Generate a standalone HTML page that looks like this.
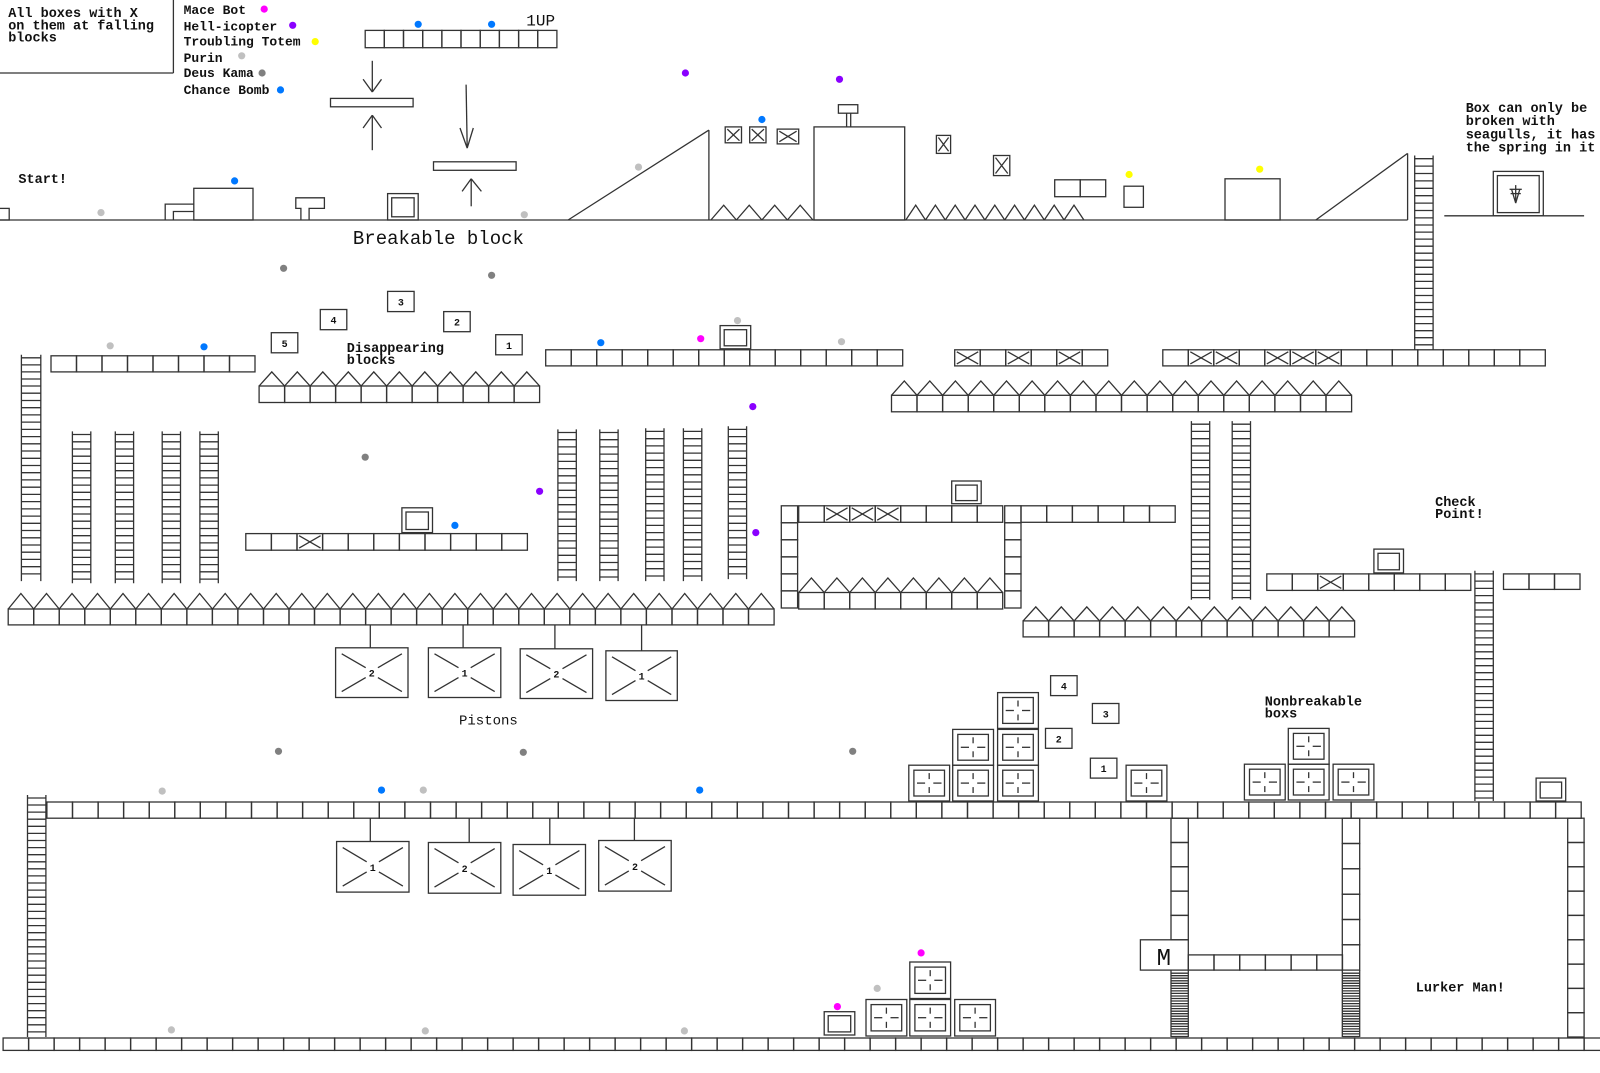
<!DOCTYPE html>
<html><head><meta charset="utf-8"><style>
html,body{margin:0;padding:0;background:#fff;width:1600px;height:1073px;overflow:hidden}
svg{display:block}
text{font-family:"Liberation Mono",monospace;fill:#111}
</style></head><body>
<svg id="s" width="1600" height="1073" viewBox="0 0 1600 1073" xmlns="http://www.w3.org/2000/svg" fill="none" stroke="#333" stroke-width="1.3">
<g id="g"></g>
</svg>
<script>
var P=[[0,0],[72,73],[211,220],[376,386],[592,609],[786,802],[1019,1038],[1073,1080]];
function fy(y){for(var i=1;i<P.length;i++){if(y<=P[i][0]||i==P.length-1){var a=P[i-1],b=P[i];return +(a[1]+(y-a[0])*(b[1]-a[1])/(b[0]-a[0])).toFixed(1);}}}
function fx(x){return +(x*1.02).toFixed(1);}
var g=document.getElementById('g'),o='';
function L(x1,y1,x2,y2){o+='<line x1="'+fx(x1)+'" y1="'+fy(y1)+'" x2="'+fx(x2)+'" y2="'+fy(y2)+'"/>';}
function PL(pts){o+='<polyline points="'+pts.map(function(p){return fx(p[0])+','+fy(p[1]);}).join(' ')+'"/>';}
function R(x,y,w,h){var X1=fx(x),Y1=fy(y);o+='<rect x="'+X1+'" y="'+Y1+'" width="'+(fx(x+w)-X1).toFixed(1)+'" height="'+(fy(y+h)-Y1).toFixed(1)+'"/>';}
function T(x,y,t,s,w,anchor,extra){o+='<text x="'+fx(x)+'" y="'+fy(y)+'" stroke="none" style="font-size:'+s+'px;font-weight:'+(w||'bold')+'" text-anchor="'+(anchor||'start')+'" '+(extra||'')+'>'+t+'</text>';}
function row(x,y,n,cw,h,xs){h=h||16;for(var i=0;i<n;i++){R(x+i*cw,y,cw,h);if(xs&&xs.indexOf(i)>=0)X(x+i*cw,y,cw,h);}}
function col(x,y,n,ch,w){for(var i=0;i<n;i++)R(x,y+i*ch,w||17,ch);}
function X(x,y,w,h){L(x+2,y+2,x+w-2,y+h-2);L(x+w-2,y+2,x+2,y+h-2);}
function xb(x,y,w,h){R(x,y,w,h);X(x,y,w,h);}
function gspikes(x,y,n,cw,sh){for(var i=0;i<n;i++)PL([[x+i*cw,y],[x+i*cw+cw/2,y-sh],[x+i*cw+cw,y]]);}
function spikes(x,y,n,cw,sh){row(x,y,n,cw,16);gspikes(x,y,n,cw,sh);}
function lad(x,y1,y2,w,st){w=w||18;st=st||7;L(x,y1,x,y2);L(x+w,y1,x+w,y2);for(var y=y1+3;y<y2;y+=st)L(x,y,x+w,y);}
function nb(x,y,s){s=s||40;R(x,y,s,s-4);R(x+5,y+5,s-10,s-14);var cx=x+s/2,cy=y+(s-4)/2;L(cx,cy-10,cx,cy-4);L(cx,cy+4,cx,cy+10);L(cx-12,cy,cx-4,cy);L(cx+4,cy,cx+12,cy);}
function bb(x,y,w,h){R(x,y,w,h);R(x+4,y+4,w-8,h-7);}
function nbox(x,y,t){R(x,y,26,20);T(x+13,y+14,t,10,'bold','middle');}
function pist(x,y,w,h,t,cx,top){L(cx,top,cx,y);R(x,y,w,h);var mx=x+w/2,my=y+h/2;L(x+6,y+6,mx-6,my-5);L(x+w-6,y+6,mx+6,my-5);L(x+6,y+h-6,mx-6,my+5);L(x+w-6,y+h-6,mx+6,my+5);T(mx,my+4,t,10,'bold','middle');}
function dot(x,y,c){o+='<circle cx="'+fx(x)+'" cy="'+fy(y)+'" r="3.6" fill="'+c+'" stroke="none"/>';}
var MG='#ff00ff',PU='#8a00ff',YE='#ffff00',LG='#c0c0c0',DG='#808080',BL='#0078ff';
var FS=13.5;
// legend
L(170,0,170,72);L(0,72,170,72);
T(8,17,'All boxes with X',FS);T(8,29,'on them at falling',FS);T(8,41,'blocks',FS);
T(180,14,'Mace Bot',13);T(180,30,'Hell-icopter',13);T(180,45,'Troubling Totem',13);T(180,61,'Purin',13);T(180,76,'Deus Kama',13);T(180,92,'Chance Bomb',13);
dot(259,9,MG);dot(287,25,PU);dot(309,41,YE);dot(237,55,LG);dot(257,72,DG);dot(275,88,BL);
// 1UP
row(358,30,10,18.8,17);dot(410,24,BL);dot(482,24,BL);
T(516,25,'1UP',16,'normal','start','fill="#555" style="font-family:Liberation Sans;font-size:16px" ');
// arrows
L(365,60,365,90);L(356,78,365,90);L(374,78,365,90);R(324,96,81,8);L(365,145,365,112);L(356,124,365,112);L(374,124,365,112);
L(457,83,458,143);L(451,124,458,143);L(464,124,458,143);R(425,156,81,8);L(462,198,462,172);L(453,184,462,172);L(472,184,462,172);
// ground
L(0,211,1380,211);
R(-2,200,11,11);
T(18,176,'Start!',FS);
PL([[162,211],[162,196],[190,196]]);PL([[170,211],[170,203],[190,203]]);
R(190,181,58,30);dot(230,174,BL);
PL([[295,211],[295,200],[290,200],[290,190],[318,190],[318,200],[303,200],[303,211]]);
bb(380,186,30,25);
T(346,235,'Breakable block',19,'normal');
dot(99,204,LG);dot(514,206,LG);dot(626,161,LG);dot(672,72,PU);dot(823,78,PU);dot(747,116,BL);dot(1107,168,YE);dot(1235,163,YE);
L(557,211,695,126);L(695,126,695,211);
gspikes(697,211,4,25,14);
xb(711,123,16,15);xb(735,123,16,15);xb(762,125,21,14);
R(798,123,89,88);R(822,102,19,8);L(830,110,830,123);L(834,110,834,123);
gspikes(888,211,9,19.4,14);
xb(918,131,14,17);xb(974,150,16,19);
row(1034,173,2,25,16);R(1102,179,19,20);R(1201,172,54,39);
L(1290,211,1380,148);L(1380,148,1380,211);
lad(1387,150,340,18,7);
T(1437,109,'Box can only be',FS);T(1437,121,'broken with',FS);T(1437,134,'seagulls, it has',FS);T(1437,146,'the spring in it',FS);
L(1416,207,1553,207);bb(1464,165,49,42);L(1486,178,1486,195);L(1480,182,1492,182);L(1481,186,1491,186);L(1482,182,1486,195);L(1490,182,1486,195);
// row 2
lad(21,345,565,19,7);
row(50,346,8,25,16);dot(108,336,LG);dot(200,337,BL);
dot(278,259,DG);dot(482,266,DG);
nbox(266,323,'5');nbox(314,300,'4');nbox(380,282,'3');nbox(435,302,'2');nbox(486,325,'1');
T(340,342,'Disappearing',FS);T(340,354,'blocks',FS);
spikes(254,376,11,25,14);
row(535,340,14,25,16);dot(589,333,BL);dot(687,329,MG);dot(723,311,LG);dot(825,332,LG);bb(706,316,30,23);
row(936,340,6,25,16,[0,2,4]);
row(1140,340,15,25,16,[1,2,4,5,6]);
spikes(874,385,18,25.06,14);
lad(1168,410,583,18,7);lad(1208,410,583,18,7);
[[71,420,567],[113,420,567],[159,420,567],[196,420,567],[547,418,565],[588,418,565],[633,417,565],[670,417,565],[714,415,563]].forEach(function(a){lad(a[0],a[1],a[2],18,7);});
dot(358,445,DG);dot(529,478,PU);dot(738,396,PU);dot(741,518,PU);
row(241,519,11,25.1,16,[2]);bb(394,494,30,24);dot(446,511,BL);
spikes(8,592,30,25.03,15);
pist(329,631,71,50,'2',363,608);pist(420,631,71,50,'1',454,608);pist(510,632,71,50,'2',544,608);pist(594,634,70,50,'1',629,608);
T(450,708,'Pistons',14,'normal');
// mid structure
row(783,492,8,25,16,[1,2,3]);bb(933,468,29,22);
col(766,492,6,16.5,16);col(985,492,6,16.5,16);
spikes(783,576,8,25,14);
row(1001,492,6,25.2,16);
spikes(1003,604,13,25,14);
T(1407,492,'Check',FS);T(1407,504,'Point!',FS);
row(1242,558,8,25,16,[2]);bb(1347,534,29,23);
lad(1446,555,785,18,7);
row(1474,558,3,25,15);
// row 4
nbox(1030,659,'4');nbox(1071,687,'3');nbox(1025,712,'2');nbox(1069,742,'1');
nb(891,749);nb(934,749);nb(978,749);nb(934,713);nb(978,713);nb(978,676);nb(1104,749);
nb(1220,748);nb(1263,748);nb(1307,748);nb(1263,712);
T(1240,689,'Nonbreakable',FS);T(1240,701,'boxs',FS);
bb(1506,762,29,23);
dot(273,735,DG);dot(513,736,DG);dot(836,735,DG);dot(159,775,LG);dot(374,774,BL);dot(415,774,LG);dot(686,774,BL);
lad(27,779,1018,18,7);
row(46,786,60,25.07,16);
pist(330,825,71,50,'1',363,802);pist(420,826,71,50,'2',460,802);pist(503,828,71,50,'1',539,802);pist(587,824,71,50,'2',622,802);
col(1148,802,5,24,17);col(1316,802,6,25,17);col(1537,802,9,24,16);
R(1118,922,47,30);
T(1141,947,'M',24,'normal','middle','fill="#fff" stroke="#333" stroke-width="1" ');
row(1165,937,6,25.2,15);
lad(1148,952,1018,17,2.5);lad(1316,952,1018,17,2.5);
T(1388,973,'Lurker Man!',FS);
nb(849,981);nb(892,981);nb(936,981);nb(892,944);
dot(903,935,MG);dot(860,970,LG);dot(821,988,MG);bb(808,993,30,23);
row(3,1019,63,25,16);
dot(168,1011,LG);dot(417,1012,LG);dot(671,1012,LG);
g.innerHTML=o;
</script>
</body></html>
